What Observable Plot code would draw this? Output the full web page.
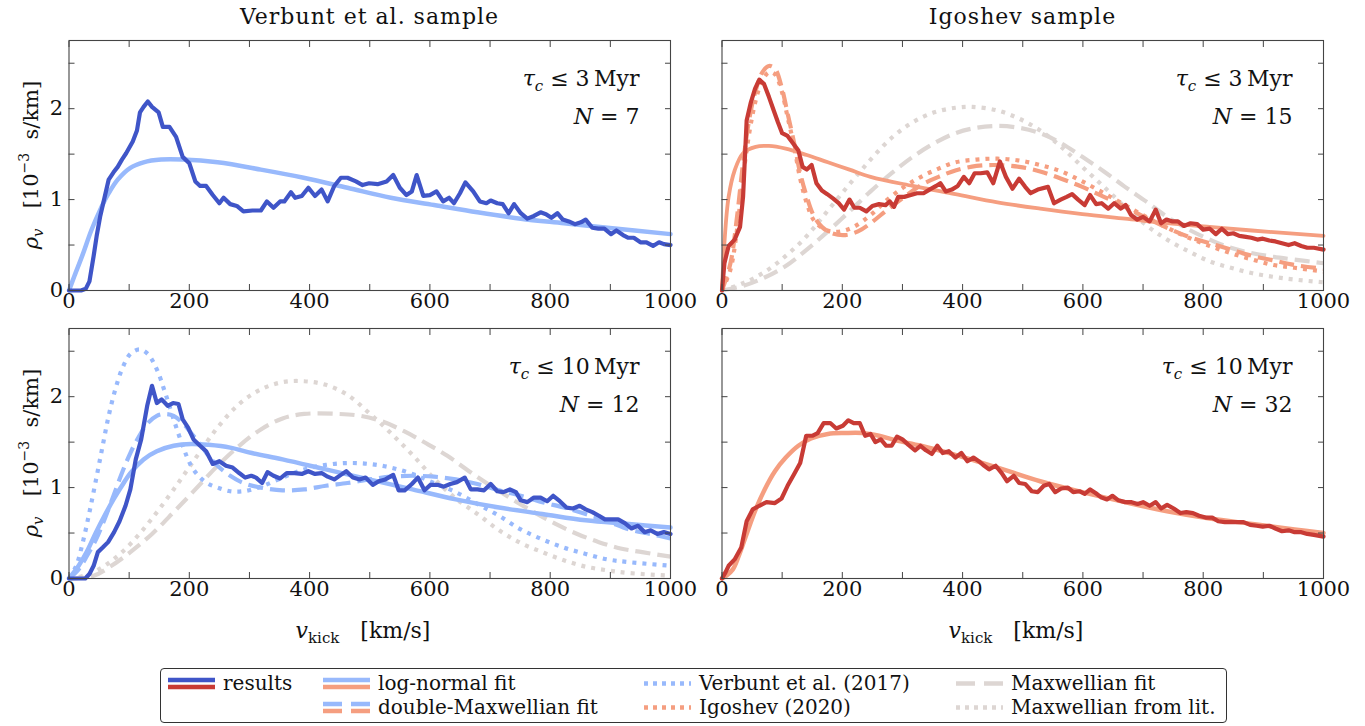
<!DOCTYPE html>
<html><head><meta charset="utf-8">
<script src="https://cdn.jsdelivr.net/npm/d3@7"></script>
<script src="https://cdn.jsdelivr.net/npm/@observablehq/plot@0.6"></script>
<style>
body{margin:0;background:#fff;}
#fig{position:relative;width:1365px;height:726px;font-family:"DejaVu Serif",serif;color:#111;overflow:hidden;}
.pnl{position:absolute;}
.title{position:absolute;top:4px;font-size:22px;letter-spacing:1px;text-align:center;width:602px;}
.ylab{position:absolute;font-size:21px;white-space:nowrap;transform:translate(-50%,-50%) rotate(-90deg);}
.xlab{position:absolute;font-size:22px;white-space:nowrap;transform:translate(-50%,-50%);}
sub{font-size:15px;vertical-align:-5px;line-height:0;}
sup{font-size:14px;vertical-align:9px;line-height:0;}
#legend{position:absolute;left:160px;top:668px;width:1067px;height:55px;border:1px solid #333;border-radius:4px;box-sizing:border-box;}
#legend .lt{position:absolute;font-family:"DejaVu Serif",serif;font-size:20px;white-space:nowrap;transform:translateY(-50%);}
#legend svg{position:absolute;left:0;top:0;}
</style></head><body><div id="fig"></div>
<script>
// ---------- tick values ----------
const xTickLabels = [0, 200, 400, 600, 800, 1000];
const xTickMarks = [0, 100, 200, 300, 400, 500, 600, 700, 800, 900, 1000];
const yTickLabels = [0, 1, 2];
const yTickMarks = [0, 0.5, 1, 1.5, 2, 2.5];
const panelTau = ["3", "3", "10", "10"];
const panelN = ["7", "15", "12", "32"];
const sampleTitles = ["Verbunt et al. sample", "Igoshev sample"];

// ---------- Verbunt sample, tau_c <= 3 Myr ----------
const tlResults = [[0,0],[10,0],[20,0],[28,0.02],[34,0.1],[41,0.38],[46,0.6],[52,0.82],[59,1.02],[66,1.22],[74,1.3],[81,1.36],[88,1.44],[95,1.51],[106,1.64],[113,1.76],[118,1.96],[124,2.02],[131,2.08],[138,2.02],[149,1.96],[156,1.8],[167,1.8],[178,1.69],[189,1.47],[200,1.4],[210,1.2],[218,1.15],[228,1.15],[239,1.05],[250,0.96],[257,1.02],[268,0.95],[279,0.93],[290,0.87],[305,0.88],[319,0.88],[329,0.98],[340,0.91],[351,0.98],[358,0.98],[369,1.08],[376,1.02],[387,1.04],[398,1.13],[409,1.04],[420,1.11],[430,0.98],[441,1.15],[452,1.24],[463,1.24],[477,1.2],[488,1.16],[499,1.18],[513,1.17],[528,1.2],[539,1.27],[550,1.13],[561,1.05],[570,1.09],[578,1.27],[589,1.04],[600,1.05],[611,1.09],[622,0.98],[632,1.02],[640,0.96],[650,1.07],[659,1.19],[672,1.09],[683,0.98],[694,0.96],[701,0.99],[712,0.96],[721,0.95],[731,0.85],[740,0.95],[751,0.85],[762,0.79],[773,0.82],[784,0.86],[793,0.84],[802,0.8],[812,0.85],[821,0.78],[831,0.76],[841,0.73],[851,0.75],[859,0.78],[870,0.69],[880,0.68],[890,0.68],[901,0.62],[910,0.66],[921,0.61],[930,0.58],[939,0.58],[950,0.53],[960,0.53],[971,0.49],[981,0.53],[989,0.51],[1000,0.5]];
const tlLogNormal = [[0,0],[9,0.16],[23,0.4],[37,0.66],[52,0.89],[66,1.07],[81,1.22],[102,1.35],[124,1.41],[153,1.44],[189,1.44],[247,1.41],[319,1.33],[390,1.24],[463,1.13],[535,1.02],[607,0.94],[679,0.86],[751,0.79],[823,0.74],[895,0.69],[1000,0.62]];

// ---------- Igoshev sample, tau_c <= 3 Myr ----------
const trResults = [[0,0],[4,0.3],[11,0.49],[21,0.56],[30,0.7],[35,1.03],[41,1.87],[48,2.07],[55,2.22],[62,2.32],[70,2.27],[78,2.13],[86,1.98],[93,1.85],[100,1.73],[109,1.7],[118,1.62],[127,1.54],[134,1.36],[141,1.33],[149,1.38],[157,1.18],[166,1.1],[175,1.06],[185,1.01],[194,0.96],[203,0.89],[212,1.0],[220,0.91],[229,0.91],[240,0.87],[250,0.93],[261,0.95],[272,0.94],[279,0.98],[286,0.92],[293,1.03],[303,1.03],[314,1.05],[324,1.07],[335,1.07],[345,1.11],[356,1.15],[363,1.18],[372,1.09],[382,1.11],[392,1.15],[402,1.25],[411,1.18],[420,1.29],[430,1.29],[441,1.3],[451,1.18],[462,1.42],[472,1.25],[483,1.12],[494,1.23],[504,1.14],[513,1.07],[525,1.11],[542,1.14],[552,0.96],[563,1.0],[573,1.03],[582,1.06],[592,1.0],[603,0.94],[612,1.05],[622,0.95],[631,0.96],[642,0.9],[652,0.96],[663,0.9],[671,0.94],[680,0.83],[690,0.78],[700,0.81],[711,0.76],[721,0.89],[730,0.74],[739,0.78],[749,0.76],[758,0.76],[768,0.71],[779,0.74],[790,0.73],[800,0.67],[811,0.68],[821,0.62],[831,0.68],[841,0.62],[850,0.63],[860,0.6],[871,0.59],[880,0.58],[890,0.56],[899,0.57],[910,0.55],[920,0.54],[931,0.52],[942,0.5],[952,0.52],[963,0.49],[973,0.47],[984,0.47],[1000,0.45]];
const trLogNormal = [[0,0],[4,0.52],[11,1.03],[21,1.32],[35,1.51],[56,1.58],[78,1.59],[106,1.56],[141,1.49],[176,1.41],[212,1.33],[247,1.25],[317,1.15],[388,1.06],[458,0.97],[529,0.9],[599,0.84],[670,0.79],[740,0.74],[811,0.7],[881,0.66],[1000,0.6]];
const trDoubleMax = [[0,0],[14,0.3],[25,0.81],[35,1.4],[46,1.91],[56,2.2],[67,2.4],[78,2.47],[88,2.44],[99,2.24],[109,1.95],[120,1.62],[130,1.29],[141,1.03],[152,0.83],[166,0.7],[183,0.63],[205,0.61],[226,0.65],[247,0.74],[275,0.89],[303,1.03],[331,1.16],[360,1.25],[388,1.32],[423,1.37],[458,1.38],[494,1.36],[529,1.31],[564,1.23],[599,1.14],[635,1.03],[670,0.92],[705,0.8],[740,0.69],[776,0.59],[811,0.52],[846,0.45],[882,0.38],[917,0.33],[952,0.28],[1000,0.24]];
const trIgoshev = [[0,0],[14,0.23],[25,0.67],[35,1.25],[46,1.76],[56,2.09],[67,2.31],[78,2.4],[88,2.38],[99,2.2],[109,1.91],[120,1.58],[130,1.23],[141,0.96],[152,0.78],[166,0.69],[180,0.65],[197,0.65],[219,0.7],[247,0.83],[275,1.0],[303,1.14],[331,1.25],[360,1.34],[388,1.41],[423,1.44],[458,1.45],[494,1.43],[529,1.38],[564,1.31],[599,1.2],[635,1.07],[670,0.94],[705,0.81],[740,0.69],[776,0.58],[811,0.49],[846,0.41],[882,0.34],[917,0.28],[952,0.25],[1000,0.21]];
const trMaxFit = [[0,0],[35,0.05],[70,0.14],[106,0.27],[141,0.45],[176,0.65],[212,0.87],[247,1.09],[282,1.29],[317,1.47],[353,1.62],[388,1.73],[423,1.79],[458,1.81],[494,1.79],[529,1.73],[564,1.62],[599,1.47],[635,1.31],[670,1.14],[705,0.98],[740,0.81],[776,0.67],[811,0.56],[846,0.47],[882,0.41],[917,0.37],[952,0.34],[1000,0.3]];
const trMaxLit = [[0,0],[35,0.08],[70,0.2],[106,0.38],[141,0.6],[176,0.88],[212,1.17],[247,1.44],[282,1.68],[317,1.85],[353,1.96],[388,2.01],[416,2.02],[458,1.98],[494,1.89],[529,1.76],[564,1.58],[599,1.36],[635,1.14],[670,0.92],[705,0.72],[740,0.56],[776,0.43],[811,0.32],[846,0.25],[882,0.19],[917,0.15],[952,0.12],[1000,0.09]];

// ---------- Verbunt sample, tau_c <= 10 Myr ----------
const blResults = [[0,0],[27,0],[34,0.05],[41,0.14],[48,0.29],[56,0.34],[65,0.4],[75,0.51],[84,0.63],[94,0.8],[102,0.98],[111,1.31],[120,1.53],[130,1.9],[138,2.12],[146,1.93],[154,1.97],[164,1.9],[173,1.93],[182,1.92],[189,1.75],[198,1.66],[207,1.53],[218,1.46],[228,1.4],[239,1.26],[250,1.29],[261,1.24],[272,1.22],[283,1.16],[293,1.11],[303,1.13],[311,1.11],[321,1.05],[330,1.17],[340,1.13],[351,1.1],[362,1.16],[375,1.16],[387,1.15],[398,1.18],[409,1.15],[420,1.16],[430,1.12],[441,1.09],[452,1.14],[461,1.18],[472,1.11],[483,1.09],[493,1.11],[505,1.03],[515,1.07],[526,1.09],[539,1.14],[548,0.97],[558,0.97],[570,1.04],[580,1.11],[591,0.97],[601,1.03],[613,1.03],[623,1.01],[634,1.04],[645,1.06],[658,1.11],[668,0.98],[679,0.98],[690,0.97],[701,1.04],[712,0.96],[722,0.95],[733,0.98],[743,0.95],[751,0.86],[762,0.84],[773,0.89],[784,0.89],[795,0.85],[805,0.91],[816,0.85],[827,0.78],[838,0.77],[849,0.8],[859,0.76],[870,0.73],[881,0.69],[891,0.65],[902,0.65],[913,0.65],[924,0.61],[935,0.55],[946,0.58],[957,0.51],[967,0.53],[978,0.49],[989,0.51],[1000,0.49]];
const blLogNormal = [[0,0],[16,0.14],[30,0.3],[45,0.51],[59,0.69],[74,0.87],[88,1.02],[102,1.16],[124,1.31],[146,1.4],[174,1.46],[203,1.48],[232,1.47],[268,1.44],[304,1.38],[355,1.31],[427,1.2],[499,1.09],[571,0.98],[643,0.87],[715,0.78],[787,0.71],[859,0.64],[931,0.6],[1000,0.56]];
const blDoubleMax = [[0,0],[16,0.1],[30,0.25],[45,0.43],[59,0.65],[74,0.91],[88,1.16],[102,1.38],[117,1.57],[131,1.71],[146,1.79],[160,1.81],[174,1.79],[189,1.71],[203,1.6],[218,1.48],[232,1.35],[247,1.24],[268,1.13],[290,1.05],[319,1.0],[355,0.97],[391,0.98],[427,1.02],[463,1.05],[499,1.09],[535,1.12],[571,1.13],[607,1.12],[643,1.09],[679,1.04],[715,0.97],[751,0.91],[787,0.84],[823,0.78],[859,0.71],[895,0.63],[931,0.54],[967,0.49],[1000,0.44]];
const blVerbunt = [[0,0],[12,0.14],[23,0.4],[34,0.73],[45,1.09],[56,1.46],[66,1.79],[77,2.08],[88,2.3],[102,2.47],[117,2.52],[131,2.47],[146,2.3],[160,2.04],[174,1.75],[189,1.46],[203,1.24],[218,1.11],[232,1.04],[247,1.0],[268,0.96],[290,0.96],[319,1.01],[355,1.11],[391,1.2],[427,1.25],[463,1.27],[499,1.26],[535,1.22],[571,1.15],[607,1.05],[643,0.95],[679,0.82],[715,0.69],[751,0.54],[787,0.43],[823,0.34],[859,0.27],[895,0.21],[931,0.18],[1000,0.14]];
const blMaxFit = [[0,0],[41,0.03],[66,0.12],[102,0.29],[138,0.49],[174,0.73],[210,0.98],[247,1.24],[283,1.46],[319,1.64],[355,1.76],[391,1.81],[448,1.81],[484,1.79],[520,1.73],[557,1.62],[593,1.49],[629,1.35],[665,1.18],[701,1.02],[737,0.87],[773,0.73],[809,0.6],[845,0.49],[881,0.4],[917,0.33],[953,0.29],[1000,0.24]];
const blMaxLit = [[0,0],[30,0.04],[66,0.17],[102,0.38],[138,0.66],[174,0.98],[210,1.32],[247,1.66],[283,1.92],[319,2.08],[355,2.16],[391,2.17],[427,2.13],[463,2.02],[499,1.82],[535,1.6],[571,1.36],[607,1.1],[643,0.88],[679,0.71],[715,0.53],[751,0.39],[787,0.29],[823,0.2],[859,0.13],[895,0.09],[931,0.06],[1000,0.03]];

// ---------- Igoshev sample, tau_c <= 10 Myr ----------
const brResults = [[0,0],[6,0.07],[11,0.14],[21,0.21],[32,0.34],[41,0.63],[51,0.76],[62,0.8],[74,0.84],[88,0.83],[99,0.88],[109,1.02],[120,1.15],[130,1.27],[140,1.57],[150,1.57],[159,1.6],[169,1.71],[180,1.71],[190,1.65],[201,1.68],[210,1.74],[219,1.71],[229,1.71],[238,1.57],[247,1.59],[255,1.5],[264,1.53],[273,1.46],[282,1.46],[291,1.56],[300,1.53],[310,1.47],[321,1.41],[330,1.46],[339,1.41],[349,1.37],[358,1.46],[367,1.38],[377,1.4],[388,1.33],[398,1.38],[408,1.29],[418,1.33],[427,1.29],[436,1.24],[444,1.2],[455,1.24],[465,1.16],[474,1.07],[485,1.13],[494,1.05],[504,1.04],[515,0.96],[525,0.95],[535,1.02],[544,1.04],[554,0.95],[564,0.99],[575,1.0],[584,0.95],[594,0.96],[603,0.93],[612,0.98],[621,0.94],[631,0.89],[640,0.87],[649,0.91],[659,0.86],[670,0.84],[681,0.84],[691,0.82],[700,0.84],[711,0.8],[721,0.84],[730,0.77],[740,0.81],[751,0.77],[762,0.72],[772,0.73],[783,0.72],[793,0.69],[804,0.67],[815,0.67],[825,0.63],[836,0.62],[846,0.62],[857,0.62],[867,0.62],[878,0.59],[889,0.58],[899,0.57],[910,0.58],[920,0.55],[931,0.52],[942,0.53],[952,0.51],[963,0.51],[973,0.49],[984,0.48],[1000,0.46]];
const brLogNormal = [[0,0],[7,0.03],[18,0.1],[28,0.25],[42,0.51],[56,0.76],[71,0.98],[88,1.18],[106,1.33],[127,1.46],[148,1.54],[176,1.59],[205,1.6],[233,1.6],[261,1.57],[289,1.52],[331,1.46],[388,1.36],[458,1.22],[529,1.07],[599,0.95],[670,0.84],[740,0.74],[811,0.66],[882,0.6],[952,0.54],[1000,0.5]];

// ---------- styles ----------
const C = {blue:"#3f55c8", red:"#c83b35", lblue:"#98b9fc", salmon:"#f59e80", gray:"#ddd6d3"};
const DASH = "15,7", DOT = "4,6";

function seriesMarks(list) {
  return list.map(s => Plot.line(s.data, {
    x: d => d[0], y: d => d[1], stroke: s.color, strokeWidth: s.w ?? 4.2,
    strokeDasharray: s.dash ?? null, strokeLinecap: s.dash ? "butt" : "round",
    strokeLinejoin: "round", curve: s.smooth ? "catmull-rom" : "linear"
  }));
}

function makePanel(o) {
  const marks = [
    ...seriesMarks(o.series),
    Plot.frame({stroke: "#444", strokeWidth: 1.1}),
    Plot.axisX({anchor: "bottom", ticks: xTickMarks, tickSize: -6, fill: "none", label: null, stroke: "#444"}),
    Plot.axisX({anchor: "top", ticks: xTickMarks, tickSize: -6, fill: "none", label: null, stroke: "#444"}),
    Plot.axisX({anchor: "bottom", ticks: xTickLabels, tickSize: 0, tickPadding: 3, label: null, tickFormat: d => String(d)}),
    Plot.axisY({anchor: "left", ticks: yTickMarks, tickSize: -6, fill: "none", label: null, stroke: "#444"}),
    Plot.axisY({anchor: "right", ticks: yTickMarks, tickSize: -6, fill: "none", label: null, stroke: "#444"}),
    Plot.text([o.tau], {frameAnchor: "top-right", dx: -31, dy: 38, text: d => "τc ≤ " + d + " Myr", textAnchor: "end", lineAnchor: "middle", fontSize: 22}),
    Plot.text([o.n], {frameAnchor: "top-right", dx: -31, dy: 76, text: d => "N = " + d, textAnchor: "end", lineAnchor: "middle", fontSize: 22})
  ];
  if (o.yLabels) marks.push(Plot.axisY({anchor: "left", ticks: yTickLabels, tickSize: 0, tickPadding: 6, label: null, tickFormat: d => String(d)}));
  const svg = Plot.plot({
    width: o.width, height: o.height,
    marginLeft: o.ml, marginRight: o.mr, marginTop: o.mt, marginBottom: o.mb,
    x: {domain: [0, 1000]}, y: {domain: [0, 2.75]},
    style: {fontFamily: '"DejaVu Serif", serif', fontSize: "21px", color: "#111", background: "transparent", overflow: "visible"},
    marks
  });
  d3.select(svg).selectAll("text").each(function() {
    const t = this.textContent; let m;
    const sel = d3.select(this);
    if ((m = t.match(/^τc ≤ (\S+) (.*)$/))) {
      sel.text(null);
      sel.append("tspan").attr("font-style", "italic").text("τ");
      sel.append("tspan").attr("font-style", "italic").attr("font-size", "15px").attr("dy", "5").text("c");
      sel.append("tspan").attr("dy", "-5").text(" ≤ " + m[1] + "\u2009" + m[2]);
    } else if ((m = t.match(/^N = (.*)$/))) {
      sel.text(null);
      sel.append("tspan").attr("font-style", "italic").text("N");
      sel.append("tspan").text(" = " + m[1]);
    }
  });
  svg.classList.add("pnl");
  svg.style.left = o.left + "px"; svg.style.top = o.top + "px";
  return svg;
}

const fig = document.getElementById("fig");
const topH = 320, botH = 340;
fig.append(makePanel({left: 0, top: 0, width: 690, height: topH, ml: 68.5, mr: 20, mt: 40, mb: 30, yLabels: true, tau: panelTau[0], n: panelN[0],
  series: [{data: tlLogNormal, color: C.lblue, smooth: true, w: 4.5}, {data: tlResults, color: C.blue}]}));
fig.append(makePanel({left: 690, top: 0, width: 675, height: topH, ml: 31.5, mr: 42, mt: 40, mb: 30, yLabels: false, tau: panelTau[1], n: panelN[1],
  series: [
    {data: trMaxLit, color: C.gray, dash: DOT, smooth: true},
    {data: trMaxFit, color: C.gray, dash: DASH, smooth: true},
    {data: trIgoshev, color: C.salmon, dash: DOT, smooth: true},
    {data: trDoubleMax, color: C.salmon, dash: DASH, smooth: true},
    {data: trLogNormal, color: C.salmon, smooth: true, w: 3.8},
    {data: trResults, color: C.red}]}));
fig.append(makePanel({left: 0, top: 320, width: 690, height: botH, ml: 68.5, mr: 20, mt: 8, mb: 82, yLabels: true, tau: panelTau[2], n: panelN[2],
  series: [
    {data: blMaxLit, color: C.gray, dash: DOT, smooth: true},
    {data: blMaxFit, color: C.gray, dash: DASH, smooth: true},
    {data: blVerbunt, color: C.lblue, dash: DOT, smooth: true},
    {data: blDoubleMax, color: C.lblue, dash: DASH, smooth: true},
    {data: blLogNormal, color: C.lblue, smooth: true, w: 4.5},
    {data: blResults, color: C.blue}]}));
fig.append(makePanel({left: 690, top: 320, width: 675, height: botH, ml: 31.5, mr: 42, mt: 8, mb: 82, yLabels: false, tau: panelTau[3], n: panelN[3],
  series: [{data: brLogNormal, color: C.salmon, smooth: true, w: 4.5}, {data: brResults, color: C.red}]}));

// titles and axis labels
function addDiv(cls, html, style) { const d = document.createElement("div"); d.className = cls; d.innerHTML = html; Object.assign(d.style, style); fig.append(d); return d; }
addDiv("title", sampleTitles[0], {left: "68.5px"});
addDiv("title", sampleTitles[1], {left: "721.5px"});
const yLabHTML = '<i>ρ<sub>v</sub></i>&nbsp;&nbsp;&nbsp;[10<sup>−3</sup>&nbsp;&nbsp;s/km]';
addDiv("ylab", yLabHTML, {left: "31px", top: "165px"});
addDiv("ylab", yLabHTML, {left: "31px", top: "453px"});
const xLabHTML = '<i>v</i><sub>kick</sub>&nbsp;&nbsp;&nbsp;[km/s]';
addDiv("xlab", xLabHTML, {left: "363px", top: "630px"});
addDiv("xlab", xLabHTML, {left: "1016px", top: "630px"});

// legend
const legendEntries = [
  {label: "results", x: 7, row: 0, lines: [{c: C.blue}, {c: C.red}]},
  {label: "log-normal fit", x: 162, row: 0, lines: [{c: C.lblue}, {c: C.salmon}]},
  {label: "double-Maxwellian fit", x: 162, row: 1, lines: [{c: C.lblue, d: DASH}, {c: C.salmon, d: DASH}]},
  {label: "Verbunt et al. (2017)", x: 483, row: 0, lines: [{c: C.lblue, d: DOT}]},
  {label: "Igoshev (2020)", x: 483, row: 1, lines: [{c: C.salmon, d: DOT}]},
  {label: "Maxwellian fit", x: 795, row: 0, lines: [{c: C.gray, d: DASH}]},
  {label: "Maxwellian from lit.", x: 795, row: 1, lines: [{c: C.gray, d: DOT}]}
];
const leg = document.createElement("div"); leg.id = "legend"; fig.append(leg);
const ls = d3.select(leg).append("svg").attr("width", 1067).attr("height", 55);
for (const e of legendEntries) {
  const cy = e.row === 0 ? 14.5 : 38.5;
  const n = e.lines.length;
  e.lines.forEach((l, i) => {
    const y = n === 2 ? cy - 3.5 + i * 7 : cy;
    ls.append("line").attr("x1", e.x).attr("x2", e.x + 47).attr("y1", y).attr("y2", y)
      .attr("stroke", l.c).attr("stroke-width", 4.5).attr("stroke-dasharray", l.d ? (l.d === DOT ? "4,5" : "19,9") : null);
  });
  const t = document.createElement("div"); t.className = "lt"; t.textContent = e.label;
  t.style.left = (e.x + 55) + "px"; t.style.top = (cy - 1) + "px"; leg.append(t);
}
</script></body></html>
